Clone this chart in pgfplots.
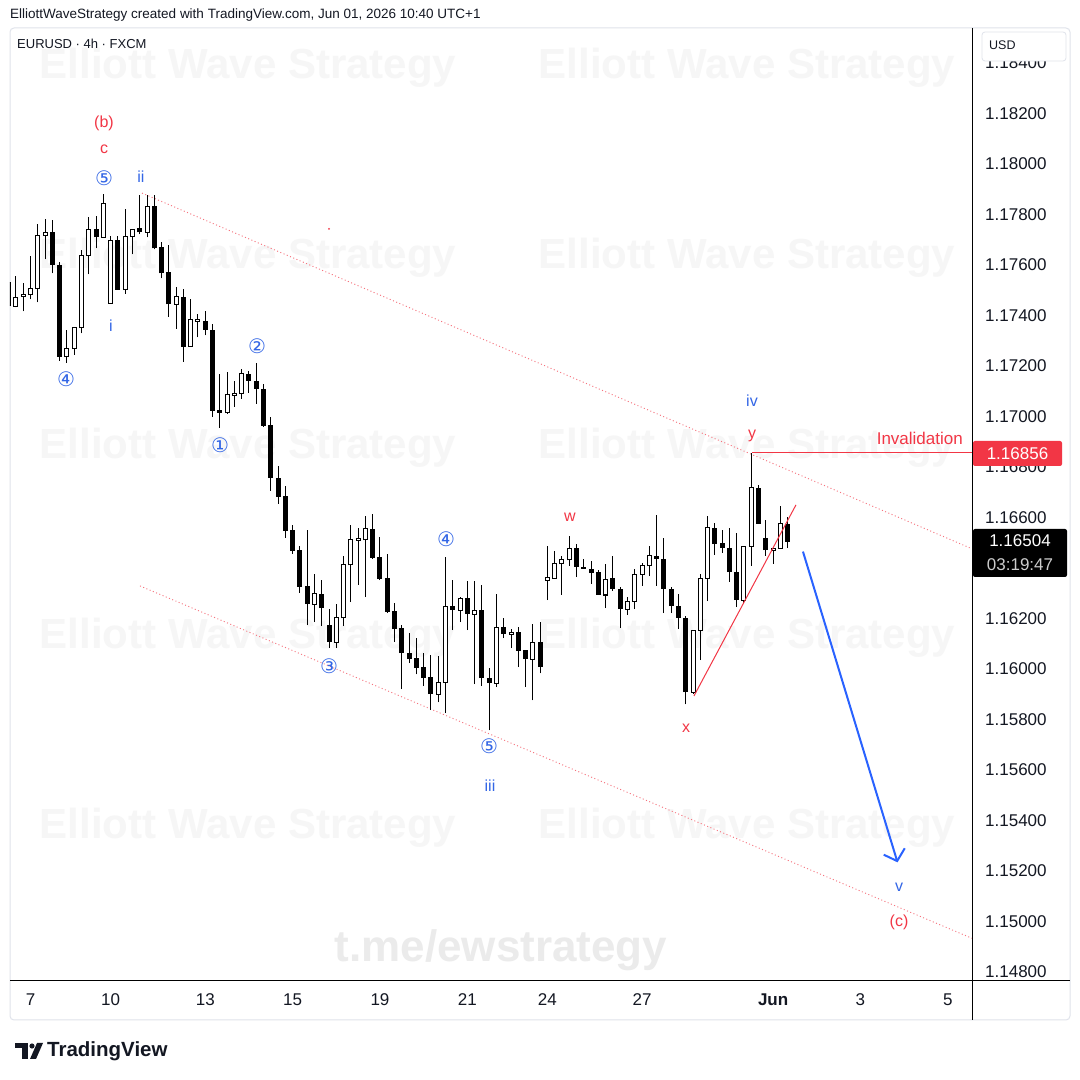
\documentclass[border=0pt]{standalone}
\usepackage{pgfplots}
\pgfplotsset{compat=1.18}
\usepackage{pgfplotstable}
\usepackage{fontspec}
\setmainfont{Liberation Sans}
\newfontfamily\dejavu{DejaVu Sans}
\usetikzlibrary{arrows.meta}
\definecolor{tvred}{HTML}{F23645}
\definecolor{tvblue}{HTML}{2962FF}
\definecolor{lblblue}{HTML}{3366E6}
\definecolor{wm}{HTML}{F6F6F6}
\definecolor{wm2}{HTML}{EBEBEB}
\definecolor{framegray}{HTML}{E0E3EB}
\definecolor{tvtext}{HTML}{131722}
\newcommand\fs[1]{\fontsize{#1}{#1}\selectfont}

% white (rising) candles: x o h l c
\pgfplotstableread{
x o h l c
-1 1.17440 1.17547 1.17428 1.17531
0 1.17436 1.17555 1.17432 1.17471
1 1.17475 1.17527 1.17416 1.17483
2 1.17483 1.17634 1.17464 1.17507
3 1.17507 1.17761 1.17452 1.17717
4 1.17717 1.17781 1.17622 1.17729
7 1.17237 1.17344 1.17213 1.17269
8 1.17269 1.17356 1.17245 1.17352
9 1.17352 1.17658 1.17329 1.17638
10 1.17638 1.17789 1.17563 1.17741
12 1.17710 1.17880 1.17710 1.17844
13 1.17448 1.17717 1.17448 1.17698
15 1.17503 1.17821 1.17487 1.17714
16 1.17714 1.17741 1.17642 1.17741
18 1.17729 1.17876 1.17710 1.17833
22 1.17444 1.17515 1.17348 1.17475
24 1.17277 1.17467 1.17277 1.17384
25 1.17378 1.17408 1.17313 1.17386
29 1.17015 1.17178 1.17011 1.17087
30 1.17085 1.17142 1.17039 1.17093
31 1.17091 1.17190 1.17071 1.17170
41 1.16257 1.16376 1.16186 1.16297
44 1.16106 1.16257 1.16083 1.16202
45 1.16202 1.16448 1.16170 1.16412
46 1.16412 1.16571 1.16265 1.16511
47 1.16509 1.16559 1.16333 1.16515
48 1.16511 1.16606 1.16285 1.16555
58 1.15900 1.16051 1.15868 1.15948
59 1.15948 1.16444 1.15825 1.16249
61 1.16233 1.16285 1.16186 1.16281
63 1.16217 1.16349 1.15940 1.16233
66 1.15944 1.16297 1.15928 1.16166
68 1.16138 1.16158 1.16083 1.16146
71 1.16039 1.16178 1.15876 1.16106
73 1.16352 1.16487 1.16273 1.16364
74 1.16360 1.16467 1.16356 1.16416
75 1.16416 1.16448 1.16293 1.16432
76 1.16432 1.16527 1.16408 1.16479
81 1.16293 1.16416 1.16241 1.16356
84 1.16237 1.16285 1.16214 1.16269
85 1.16269 1.16396 1.16237 1.16376
86 1.16376 1.16420 1.16329 1.16408
87 1.16408 1.16487 1.16368 1.16448
93 1.15908 1.16154 1.15900 1.16154
94 1.16154 1.16376 1.16035 1.16360
95 1.16360 1.16606 1.16269 1.16559
100 1.16273 1.16487 1.16261 1.16487
101 1.16487 1.16856 1.16408 1.16717
104 1.16471 1.16479 1.16416 1.16479
105 1.16479 1.16646 1.16479 1.16575
}\bull

% black (falling) candles: x o h l c
\pgfplotstableread{
x o h l c
5 1.17729 1.17777 1.17567 1.17602
6 1.17602 1.17614 1.17221 1.17237
11 1.17741 1.17793 1.17666 1.17710
14 1.17698 1.17714 1.17503 1.17503
17 1.17745 1.17876 1.17721 1.17729
19 1.17833 1.17876 1.17662 1.17666
20 1.17670 1.17690 1.17547 1.17567
21 1.17571 1.17678 1.17396 1.17444
23 1.17475 1.17507 1.17217 1.17277
26 1.17380 1.17416 1.17321 1.17344
27 1.17344 1.17368 1.16999 1.17023
28 1.17027 1.17170 1.16956 1.17015
32 1.17170 1.17182 1.17094 1.17142
33 1.17142 1.17213 1.17051 1.17110
34 1.17110 1.17130 1.16960 1.16964
35 1.16967 1.16999 1.16706 1.16757
36 1.16757 1.16805 1.16654 1.16682
37 1.16686 1.16725 1.16519 1.16547
38 1.16551 1.16571 1.16456 1.16467
39 1.16471 1.16487 1.16301 1.16325
40 1.16329 1.16551 1.16174 1.16257
42 1.16297 1.16352 1.16170 1.16241
43 1.16174 1.16237 1.16083 1.16106
49 1.16555 1.16614 1.16436 1.16440
50 1.16444 1.16523 1.16352 1.16356
51 1.16360 1.16456 1.16221 1.16225
52 1.16229 1.16261 1.16106 1.16158
53 1.16162 1.16174 1.15920 1.16063
54 1.16063 1.16142 1.16023 1.16039
55 1.16043 1.16122 1.15979 1.16003
56 1.16007 1.16063 1.15932 1.15964
57 1.15968 1.16055 1.15837 1.15900
60 1.16249 1.16352 1.16154 1.16233
62 1.16281 1.16349 1.16154 1.16217
64 1.16233 1.16333 1.15932 1.15964
65 1.15964 1.16003 1.15757 1.15944
67 1.16166 1.16202 1.16122 1.16138
69 1.16146 1.16166 1.16007 1.16071
70 1.16075 1.16075 1.15928 1.16039
72 1.16106 1.16186 1.15983 1.16007
77 1.16479 1.16495 1.16364 1.16404
78 1.16404 1.16436 1.16396 1.16396
79 1.16396 1.16428 1.16337 1.16380
80 1.16384 1.16392 1.16293 1.16293
82 1.16360 1.16448 1.16309 1.16317
83 1.16317 1.16325 1.16162 1.16237
88 1.16448 1.16610 1.16329 1.16436
89 1.16436 1.16519 1.16221 1.16317
90 1.16317 1.16325 1.16221 1.16249
91 1.16249 1.16297 1.16158 1.16202
92 1.16202 1.16210 1.15860 1.15908
96 1.16559 1.16579 1.16452 1.16495
97 1.16499 1.16551 1.16460 1.16479
98 1.16479 1.16559 1.16345 1.16384
99 1.16384 1.16539 1.16245 1.16273
102 1.16717 1.16729 1.16575 1.16575
103 1.16519 1.16591 1.16448 1.16471
106 1.16575 1.16602 1.16479 1.16504
}\bear

\begin{document}
\begin{tikzpicture}
\useasboundingbox (0pt,0pt) rectangle (1080pt,1080pt);
\fill[white] (0pt,0pt) rectangle (1080pt,1080pt);

% ---------- background, frame, watermarks (pixel coordinates, y downwards)
\begin{scope}[shift={(0pt,1080pt)}, x=1pt, y=-1pt]
  \draw[framegray, line width=1pt, rounded corners=4pt] (10,28) rectangle (1070,1020);
  \foreach \yy in {68,258,448,638,828}{
    \node[font=\fs{42}\bfseries, text=wm] at (248,\yy) {Elliott Wave Strategy};
    \node[font=\fs{42}\bfseries, text=wm] at (747,\yy) {Elliott Wave Strategy};
  }
  \node[font=\fs{44}\bfseries, text=wm2] at (501,950) {t.me/ewstrategy};
  \node[anchor=west, inner sep=0pt, font=\fs{13.5}, text=tvtext] at (10,15)
    {ElliottWaveStrategy created with TradingView.com, Jun 01, 2026 10:40 UTC+1};
  \node[anchor=west, inner sep=0pt, font=\fs{13}, text=tvtext] at (17,44)
    {EURUSD · 4h · FXCM};
\end{scope}

\begin{axis}[
  at={(10pt,99pt)}, anchor=south west,
  width=962pt, height=953pt, scale only axis,
  xmin=-0.824, xmax=131.32,
  ymin=1.14764, ymax=1.18539,
  axis line style={draw=none},
  major tick length=0pt,
  xtick={2,13,26,38,50,62,73,86,104,116,128},
  xticklabels={7,10,13,15,19,21,24,27,\textbf{Jun},3,5},
  xticklabel style={font=\fs{17}, text=tvtext, anchor=base, inner sep=0pt, yshift=-25pt},
  ytick={1.148,1.150,1.152,1.154,1.156,1.158,1.160,1.162,1.164,1.166,1.168,1.170,1.172,1.174,1.176,1.178,1.180,1.182,1.184},
  yticklabel pos=right,
  scaled y ticks=false,
  yticklabel style={font=\fs{17}, text=tvtext, anchor=west, inner sep=0pt, xshift=13pt,
    /pgf/number format/fixed, /pgf/number format/fixed zerofill,
    /pgf/number format/precision=5, /pgf/number format/assume math mode=true},
  clip=true,
]
% channel lines
\addplot[tvred!70, line width=0.9pt, dash pattern=on 1pt off 2.5pt] coordinates {(17.31,1.17885) (131.32,1.16476)};
\addplot[tvred!70, line width=0.9pt, dash pattern=on 1pt off 2.5pt] coordinates {(17.03,1.16329) (131.32,1.14933)};

% wicks
\addplot[black, line width=1pt, quiver={u=0, v=\thisrow{h}-\thisrow{l}}] table[x=x, y=l] {\bull};
\addplot[black, line width=1pt, quiver={u=0, v=\thisrow{h}-\thisrow{l}}] table[x=x, y=l] {\bear};
% falling bodies
\addplot[black, line width=5pt, quiver={u=0, v=\thisrow{o}-\thisrow{c}}] table[x=x, y=c] {\bear};
% rising bodies (outline + white fill)
\addplot[black, line width=5pt, quiver={u=0, v=\thisrow{c}-\thisrow{o}+0.00004}] table[x=x, y expr=\thisrow{o}-0.00002] {\bull};
\addplot[white, line width=3pt, quiver={u=0, v=\thisrow{c}-\thisrow{o}-0.00004}] table[x=x, y expr=\thisrow{o}+0.00002] {\bull};

% trend line and invalidation level
\addplot[tvred, line width=1pt] coordinates {(93.13,1.15893) (107.14,1.16650)};
\addplot[tvred, line width=1pt] coordinates {(101.1,1.16856) (131.32,1.16856)};
% projected path
\draw[color=tvblue, line width=2pt, -{Straight Barb[length=10pt,width=22pt,line width=2pt]}]
  (axis cs:108.1,1.16465) -- (axis cs:121.09,1.15234);
\fill[tvred] (axis cs:43.0,1.17743) circle (1pt);
\end{axis}

% ---------- overlays in pixel coordinates
\begin{scope}[shift={(0pt,1080pt)}, x=1pt, y=-1pt]
  \draw[black, line width=1pt] (10,981) -- (1070,981);
  \draw[black, line width=1pt] (972,28) -- (972,1020);
  % USD box
  \draw[framegray, fill=white, line width=0.8pt, rounded corners=3pt] (982,32) rectangle (1066,61);
  \node[anchor=west, inner sep=0pt, font=\fs{12.5}, text=tvtext] at (989,45) {USD};
  % price boxes
  \fill[tvred, rounded corners=2pt] (973,441) rectangle (1062,466);
  \node[font=\fs{17}, text=white] at (1017.5,453.5) {1.16856};
  \fill[black, rounded corners=2pt] (973,529) rectangle (1067,577);
  \node[font=\fs{17}, text=white] at (1020,541) {1.16504};
  \node[font=\fs{17}, text=black!20] at (1020,565) {03:19:47};
  \node[anchor=east, inner sep=0pt, font=\fs{17}, text=tvred] at (963,438) {Invalidation};
  % wave labels
  \node[font=\fs{16}, text=tvred] at (104,123) {(b)};
  \node[font=\fs{16}, text=tvred] at (104,149) {c};
  \node[font=\dejavu\fs{20}, text=lblblue] at (104,178) {⑤};
  \node[font=\fs{16}, text=lblblue] at (141,177) {ii};
  \node[font=\fs{16}, text=lblblue] at (111,326) {i};
  \node[font=\dejavu\fs{20}, text=lblblue] at (66,379) {④};
  \node[font=\dejavu\fs{20}, text=lblblue] at (257,346) {②};
  \node[font=\dejavu\fs{20}, text=lblblue] at (220,445) {①};
  \node[font=\dejavu\fs{20}, text=lblblue] at (329,666) {③};
  \node[font=\dejavu\fs{20}, text=lblblue] at (446,539) {④};
  \node[font=\dejavu\fs{20}, text=lblblue] at (489,746) {⑤};
  \node[font=\fs{16}, text=lblblue] at (490,786) {iii};
  \node[font=\fs{16}, text=tvred] at (570,517) {w};
  \node[font=\fs{16}, text=tvred] at (686,728) {x};
  \node[font=\fs{16}, text=lblblue] at (752,401) {iv};
  \node[font=\fs{16}, text=tvred] at (752,436) {y};
  \node[font=\fs{16}, text=lblblue] at (899,887) {v};
  \node[font=\fs{16}, text=tvred] at (899,922) {(c)};
  % TradingView logo
  \fill[tvtext] (15,1043) rectangle (28,1048);
  \fill[tvtext] (22,1043) rectangle (28,1059);
  \fill[tvtext] (32,1046) circle (2.6);
  \fill[tvtext] (37,1043) -- (43,1043) -- (36,1059) -- (30,1059) -- cycle;
  \node[anchor=west, inner sep=0pt, font=\fs{20.5}\bfseries, text=tvtext] at (47,1051) {TradingView};
\end{scope}
\end{tikzpicture}
\end{document}
